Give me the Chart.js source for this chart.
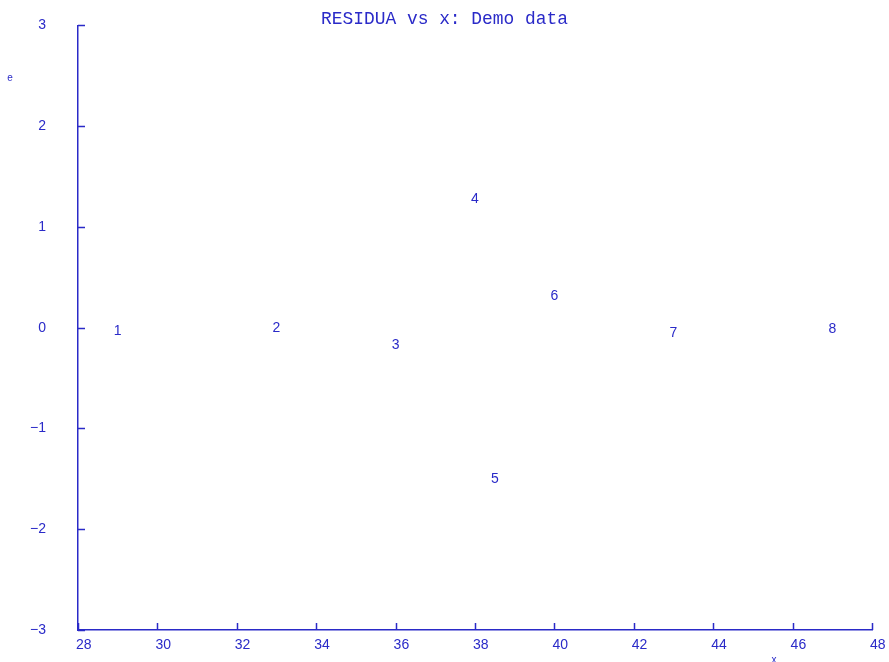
<!DOCTYPE html>
<html>
<head>
<meta charset="utf-8">
<script src="https://cdn.jsdelivr.net/npm/chart.js@4/dist/chart.umd.min.js"></script>
<style>
  html, body { margin: 0; padding: 0; background: #ffffff; }
  #wrap { width: 889px; height: 662px; }
</style>
</head>
<body>
<div id="wrap"><canvas id="c" width="889" height="662"></canvas></div>
<script>
const caseLabels = ['1', '2', '3', '4', '5', '6', '7', '8'];
const xValues = [29, 33, 36, 38, 38.5, 40, 43, 47];
const residuals = [-0.03, 0.0, -0.17, 1.28, -1.50, 0.31, -0.05, -0.01];
const chartTitle = 'RESIDUA vs x: Demo data';
const xAxisTitle = 'x';
const yAxisTitle = 'e';

const BLUE = '#2a2ac8';

const points = xValues.map((x, i) => ({ x: x, y: residuals[i] }));

const labelPlugin = {
  id: 'caseLabels',
  afterDatasetsDraw(chart) {
    const ctx = chart.ctx;
    const meta = chart.getDatasetMeta(0);
    ctx.save();
    ctx.fillStyle = BLUE;
    ctx.font = '14px "Liberation Sans", Arial, sans-serif';
    ctx.textAlign = 'center';
    ctx.textBaseline = 'middle';
    meta.data.forEach((el, i) => {
      ctx.fillText(caseLabels[i], el.x, el.y);
    });
    ctx.restore();
  }
};

const tickPlugin = {
  id: 'innerTicks',
  afterDraw(chart) {
    const ctx = chart.ctx;
    const xs = chart.scales.x, ys = chart.scales.y;
    const area = chart.chartArea;
    ctx.save();
    ctx.strokeStyle = BLUE;
    ctx.lineWidth = 1.5;
    ctx.beginPath();
    ys.ticks.forEach(t => {
      const p = Math.round(ys.getPixelForValue(t.value)) + 0.5;
      ctx.moveTo(area.left, p);
      ctx.lineTo(area.left + 7, p);
    });
    xs.ticks.forEach(t => {
      const p = Math.round(xs.getPixelForValue(t.value)) + 0.5;
      ctx.moveTo(p, area.bottom);
      ctx.lineTo(p, area.bottom - 7);
    });
    ctx.stroke();
    // axis titles
    ctx.fillStyle = BLUE;
    ctx.font = '10px "Liberation Sans", Arial, sans-serif';
    ctx.textAlign = 'center';
    ctx.textBaseline = 'middle';
    ctx.fillText(yAxisTitle, 10, 78);
    ctx.textBaseline = 'top';
    ctx.fillText(xAxisTitle, 774, 655);
    ctx.restore();
  }
};

new Chart(document.getElementById('c'), {
  type: 'scatter',
  data: {
    datasets: [{
      data: points,
      pointRadius: 0,
      pointHoverRadius: 0,
      showLine: false,
      borderColor: BLUE,
      backgroundColor: BLUE
    }]
  },
  options: {
    responsive: false,
    animation: false,
    events: [],
    layout: { padding: 0 },
    plugins: {
      legend: { display: false },
      tooltip: { enabled: false },
      title: {
        display: true,
        text: chartTitle,
        color: BLUE,
        font: { family: '"Liberation Mono", "DejaVu Sans Mono", monospace', size: 17.9, weight: 'normal' },
        padding: { top: 9, bottom: -5 }
      }
    },
    scales: {
      x: {
        type: 'linear',
        min: 28,
        max: 48,
        grid: { display: false, drawTicks: false },
        border: { display: true, color: BLUE, width: 1.5 },
        ticks: {
          stepSize: 2,
          color: BLUE,
          align: 'start',
          labelOffset: -2,
          padding: 7,
          maxRotation: 0,
          autoSkip: false,
          font: { family: '"Liberation Sans", Arial, sans-serif', size: 14 }
        },
        afterFit(s) { s.height = 32; s.paddingLeft = 0; s.paddingRight = 17; }
      },
      y: {
        type: 'linear',
        min: -3,
        max: 3,
        grid: { display: false, drawTicks: false },
        border: { display: true, color: BLUE, width: 1.5 },
        ticks: {
          stepSize: 1,
          color: BLUE,
          padding: 32,
          font: { family: '"Liberation Sans", Arial, sans-serif', size: 14 },
          callback: (v) => (v < 0 ? '\u2212' + Math.abs(v) : String(v))
        },
        afterFit(s) { s.width = 78; s.paddingTop = 0; s.paddingBottom = 0; }
      }
    }
  },
  plugins: [labelPlugin, tickPlugin]
});
</script>
</body>
</html>
